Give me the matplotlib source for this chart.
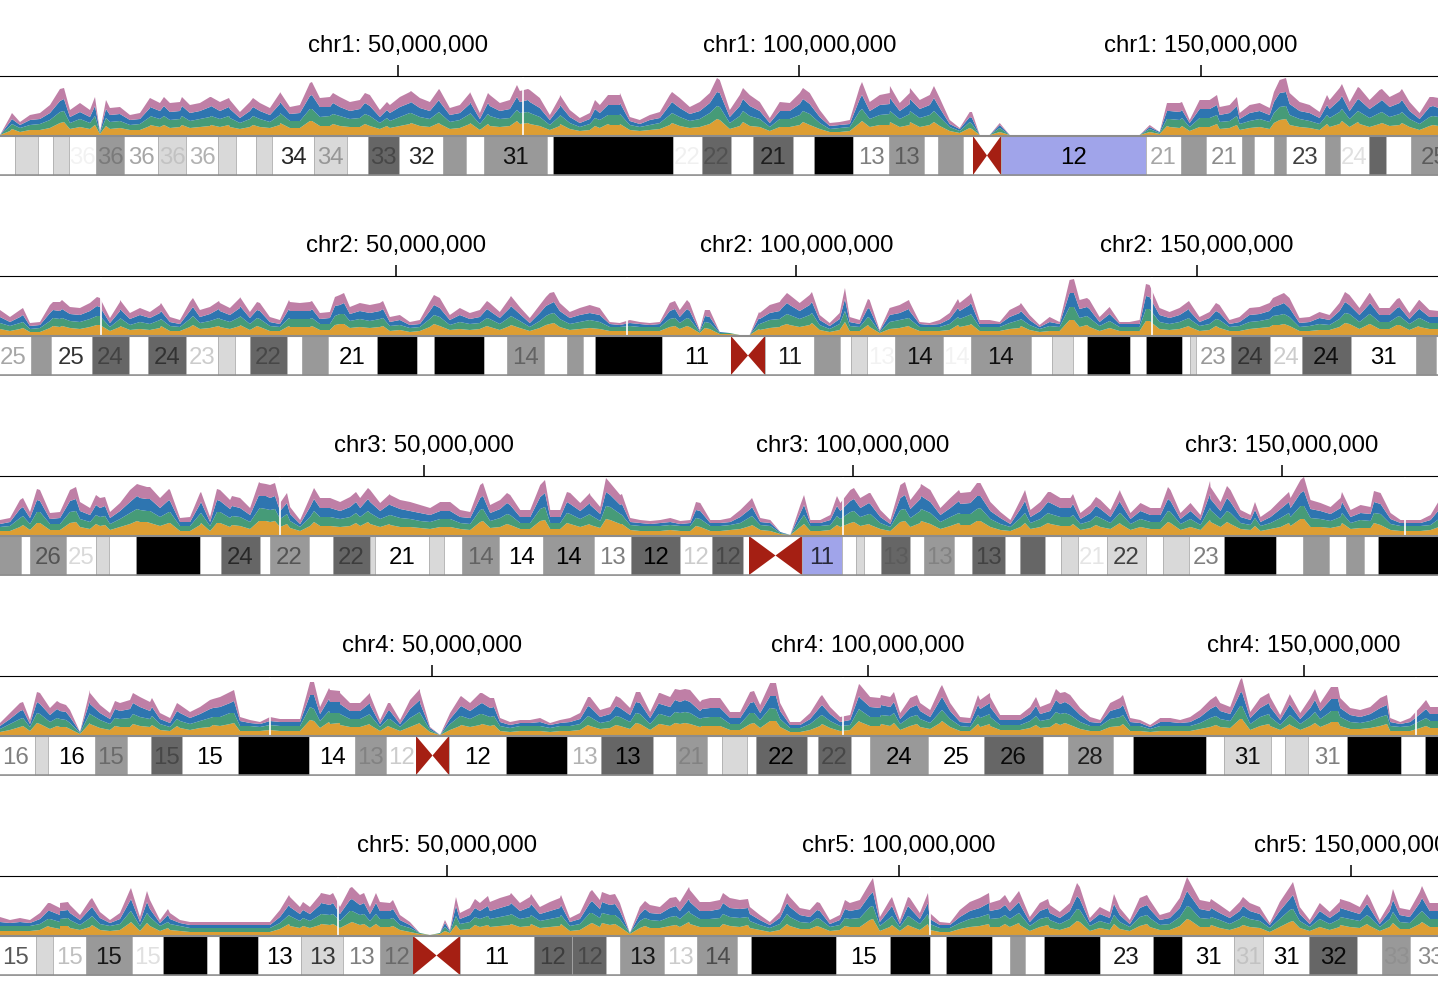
import matplotlib
matplotlib.use("Agg")
import numpy as np
from matplotlib import pyplot as plt

# -----------------------------
# DATA
# -----------------------------
view_start = [0.44, 0.56, 0.60, 0.46, 0.55]   # Mb at the left edge of each track
view_end = [179.52, 180.09, 168.2, 165.37, 159.62]
bin_size = [1.245, 1.248, 1.166, 1.147, 1.106]  # Mb per coverage bin
tick_mb = [50, 100, 150]

# cytoband edges (Mb), stain code per band, band number, label opacity for numbered bands
chr1_edges = [0, 2.31, 5.17, 7.04, 9.03, 12.4, 15.88, 20.12, 23.6, 27.59, 29.83, 32.32, 34.31, 39.54, 43.65, 46.27,
              50.13, 55.6, 58.47, 60.71, 68.56, 69.31, 84.25, 87.86, 91.47, 94.21, 99.19, 101.81, 106.67, 111.15,
              115.51, 117.25, 120.37, 121.61, 125.1, 143.15, 147.51, 150.62, 155.11, 156.6, 159.09, 160.59, 165.45,
              167.32, 170.93, 173.04, 176.15, 182]
chr1_stain = "wlwlwgwlwl" + "wlwlwdwgwg" + "wkwdwdwkwg" + "wgwCbwgwgw" + "gwgwdwg"
chr1_band = ['', '', '', '', '36', '36', '36', '36', '36', '', '', '', '34', '34', '', '33', '32', '', '', '31', '',
             '', '22', '22', '', '21', '', '', '13', '13', '', '', '', '', '12', '21', '', '21', '', '', '', '23', '',
             '24', '', '', '25']
chr1_alpha = [.05, .2, .35, .1, .3, .85, .3, .3, .85, .9, .06, .2, .7, .5, .4, 1, .35, .45, .75, .12, .4]

chr2_edges = [0, 4.43, 6.93, 12.05, 16.66, 19.04, 23.78, 27.78, 29.9, 31.77, 36.39, 38.26, 41.51, 47.63, 52.62,
              54.74, 60.98, 63.86, 68.47, 71.35, 73.34, 74.84, 83.21, 91.82, 96.07, 102.18, 105.43, 106.8, 108.8,
              112.3, 118.29, 121.78, 129.27, 131.9, 134.52, 136.27, 141.63, 143.63, 148.13, 149.12, 149.87, 154.24,
              159.11, 163.11, 169.22, 177.34, 179.84, 183]
chr2_stain = "wgwdwdwlwd" + "wgwkwkwgwg" + "wkwCwgwlwg" + "wgwlwkwkwl" + "wdwdwgw"
chr2_band = ['25', '', '25', '24', '', '24', '23', '', '', '22', '', '', '21', '', '', '', '', '14', '', '', '', '',
             '11', '', '11', '', '', '', '13', '14', '14', '14', '', '', '', '', '', '', '', '', '23', '24', '24',
             '24', '31', '', '']
chr2_alpha = [.35, .8, .35, .5, .2, .3, 1, .35, 1, .9, .05, .9, .05, .9, .4, .5, .2, .85, 1]

chr3_edges = [0, 3.05, 4.1, 8.29, 11.79, 13.3, 16.45, 23.91, 26.36, 30.9, 32.07, 36.61, 39.41, 43.72, 44.31, 50.6,
              52.35, 54.45, 58.76, 63.89, 69.83, 74.14, 79.85, 83.58, 87.2, 87.9, 94.07, 98.73, 100.37, 101.3, 103.28,
              106.66, 108.29, 111.79, 113.89, 117.73, 119.48, 122.4, 124.26, 126.24, 129.62, 134.17, 136.15, 139.18,
              143.26, 149.32, 152.46, 155.49, 157.48, 159.57, 161.2, 172]
chr3_stain = "gwgwlwkwdw" + "gwdlwlwgwg" + "wdwdwCbwlw" + "dwgwdwdwlw" + "lwlwkwgwgw" + "k"
chr3_band = ['', '', '26', '25', '', '', '', '', '24', '', '22', '', '22', '', '21', '', '', '14', '14', '14', '13',
             '12', '12', '12', '', '', '11', '', '', '', '13', '', '13', '', '13', '', '', '', '', '21', '22', '', '',
             '23', '', '', '', '', '', '', '']
chr3_alpha = [.45, .15, .6, .45, .4, 1, .35, 1, 1, .5, 1, .2, .3, .75, .1, .15, .35, .1, .7, .5]

chr4_edges = [0, 4.47, 5.96, 11.35, 15.02, 17.78, 21.33, 27.75, 35.9, 41.17, 44.73, 48.17, 51.95, 58.49, 65.48,
              69.38, 75.35, 77.98, 81.54, 83.26, 86.12, 87.16, 93.0, 94.27, 98.05, 100.23, 106.88, 113.3, 120.07,
              122.94, 128.1, 130.39, 138.76, 140.83, 146.22, 147.82, 150.46, 154.93, 161.12, 163.88, 168]
chr4_stain = "wlwgwdwkwg" + "wCwkwdwgwl" + "wdwdwgwdwg" + "wkwlwlwkwk"
chr4_band = ['16', '', '16', '15', '', '15', '15', '', '14', '13', '12', '', '12', '', '13', '13', '', '21', '', '',
             '', '22', '', '22', '', '24', '25', '26', '', '28', '', '', '', '31', '', '', '31', '', '', '']
chr4_alpha = [.5, 1, .3, .3, 1, 1, .15, .2, 1, .3, 1, .15, 1, .3, 1, 1, .9, .8, .95, .5]

chr5_edges = [0, 4.53, 6.41, 10.06, 15.15, 18.58, 23.45, 24.78, 29.09, 33.85, 38.49, 42.59, 46.24, 51.44, 59.62,
              63.82, 67.59, 69.13, 74.0, 77.65, 82.08, 83.63, 93.03, 99.0, 103.43, 105.2, 110.28, 112.28, 113.94,
              116.04, 122.23, 128.09, 131.3, 137.05, 140.26, 145.35, 150.66, 153.42, 156.53, 161]
chr5_stain = "wlwgwkwkwl" + "wgCwddwgwg" + "wkwkwkwgwk" + "wkwlwdwgw"
chr5_band = ['15', '', '15', '15', '15', '', '', '', '13', '13', '13', '12', '', '11', '12', '12', '', '13', '13', '14',
             '', '', '15', '', '', '', '', '', '', '', '23', '', '31', '31', '31', '32', '', '33', '33']
chr5_alpha = [.65, .25, .85, .12, 1, .75, .5, .3, 1, .4, .3, .85, .2, .5, 1, .9, 1, .1, 1, .9, .06, .45]

# assembly gaps (Mb)
chr1_gaps = [65.6]
chr2_gaps = [13.17, 78.8, 144.4]
chr3_gaps = [33.2, 98.9, 164.4]
chr4_gaps = [31.4, 97.1, 162.85]
chr5_gaps = [37.94, 103.4]

# coverage per bin, stacked from the bottom: orange, green, blue, pink
chr1_orange = [0,4,3,5,5,7,12,6,8,6,1,6, 7,5,5,9,8,7,8,7,8,9,8,8, 6,8,8,7,10,7,7,14,9,9,9,8, 8,9,6,7,9,11,9,8,11,6,7,11,
               5,9,8,9,11,11,9,5,9,6,4,5, 7,10,10,5,4,5,6,10,9,7,8,11, 15,6,9,9,8,4,8,8,10,10,6,3, 3,4,12,8,10,10,8,10,8,10,9,4,
               2,7,0,0,3,0,0,0,0,0,0,0, 0,0,0,0,0,0,0,3,1,8,7,4, 8,8,6,7,5,7,8,6,15,10,8,7, 5,8,11,8,11,8,11,9,10,8,5,9]
chr1_green = [0,5,4,5,6,8,11,6,8,6,1,7, 7,5,6,9,8,8,8,7,8,9,8,9, 6,8,8,6,10,7,7,12,9,10,10,8, 9,10,6,7,9,11,9,8,11,7,8,10,
              6,10,8,8,11,11,9,5,10,6,4,6, 8,10,10,5,4,5,6,10,9,7,8,11, 13,6,10,10,8,4,8,8,10,11,6,3, 4,4,12,8,10,11,8,11,9,10,9,4,
              2,6,0,0,4,0,0,0,0,0,0,0, 0,0,0,0,0,0,0,3,1,8,8,4, 9,9,7,7,6,7,8,7,13,10,8,7, 6,9,12,8,12,9,11,9,11,8,6,9]
chr1_blue = [0,4,3,5,5,7,11,6,7,6,1,7, 7,5,5,9,8,8,8,8,8,10,8,9, 5,8,8,7,11,7,8,13,10,9,9,8, 9,10,6,8,10,10,9,8,11,7,7,10,
             5,10,8,9,11,11,9,5,9,6,4,5, 7,10,10,4,3,5,5,10,9,7,8,10, 14,6,10,10,8,4,8,8,11,10,6,3, 3,3,12,8,10,10,8,10,9,10,9,3,
             2,5,0,0,3,0,0,0,0,0,0,0, 0,0,0,0,0,0,0,2,1,8,8,4, 9,9,7,8,5,8,8,7,14,11,8,8, 6,9,12,8,12,9,11,10,11,8,5,10]
chr1_pink = [0,5,3,5,6,8,12,7,9,7,0,7, 7,5,6,10,8,9,9,8,8,10,9,9, 6,9,8,7,11,7,8,13,9,10,10,9, 9,11,7,8,10,11,10,9,12,7,8,11,
             6,11,8,9,11,12,10,5,10,7,5,6, 8,10,10,4,4,5,6,10,10,7,9,10, 13,7,11,11,9,5,9,8,11,11,7,3, 3,4,12,9,10,11,8,11,9,10,10,4,
             1,5,0,0,2,0,0,0,0,0,0,0, 0,0,0,0,0,0,0,2,0,8,9,3, 9,9,8,8,6,8,8,7,13,11,9,8, 6,9,12,9,12,9,12,10,11,9,6,10]

chr2_orange = [6,4,6,3,3,7,8,7,6,8,10,4, 8,5,6,5,7,4,4,8,6,7,8,6, 9,5,8,4,4,8,8,8,5,5,11,7, 8,7,8,4,5,3,4,8,9,5,6,5,
               6,8,5,9,7,4,7,11,8,5,6,7, 6,4,4,4,4,4,4,8,6,8,2,6, 1,1,0,0,5,7,8,10,8,10,5,3, 5,4,4,8,2,6,7,8,4,4,4,5,
               8,10,4,4,4,6,7,5,3,4,4,15, 8,8,4,7,4,4,4,14,6,5,6,8, 4,5,7,4,4,6,7,8,10,9,4,4, 5,5,8,11,6,11,6,6,10,5,8,6]
chr2_green = [6,5,6,3,4,7,8,7,7,8,9,4, 8,5,7,6,8,5,4,8,6,7,8,7, 9,6,8,5,4,8,8,8,6,6,10,7, 8,7,8,5,5,4,4,8,9,5,7,6,
              6,8,6,9,7,4,7,10,8,6,7,8, 7,4,4,5,4,4,4,8,6,8,1,6, 1,1,0,0,6,8,8,10,8,10,5,3, 6,5,4,9,1,7,8,8,4,4,4,6,
              8,10,4,4,4,6,8,5,3,5,4,13, 9,9,5,7,4,4,4,12,7,6,7,8, 5,6,8,4,5,7,7,8,10,9,4,5, 6,5,8,10,7,10,7,7,9,6,9,6]
chr2_blue = [6,4,6,3,3,8,8,7,7,8,9,4, 8,6,7,6,7,4,3,8,6,7,8,7, 9,6,8,4,3,8,8,8,5,6,9,7, 8,8,8,4,5,3,3,8,9,5,7,5,
             6,8,6,9,7,4,8,10,8,6,7,7, 7,3,2,3,3,2,3,8,6,8,1,6, 1,0,0,0,5,7,8,10,8,10,5,3, 5,4,3,9,1,7,7,8,3,2,3,5,
             8,10,3,3,3,6,7,5,2,4,3,14, 9,9,4,7,3,3,3,12,7,6,7,8, 4,6,7,3,4,7,7,8,10,9,4,4, 6,5,8,9,7,10,7,7,9,5,9,6]
chr2_pink = [7,5,7,3,3,8,9,7,7,8,9,5, 9,6,7,6,8,5,4,9,7,7,8,7, 10,6,8,5,4,9,8,9,6,6,10,7, 8,8,8,5,5,3,4,9,10,5,7,6,
             7,8,6,10,7,5,8,11,8,6,7,8, 7,2,2,3,2,2,2,8,7,8,1,7, 0,0,0,0,6,8,9,10,8,10,5,3, 6,5,4,9,1,7,8,9,2,2,4,6,
             8,10,4,4,2,7,8,5,2,5,2,13, 9,9,5,7,2,2,4,12,7,6,7,9, 5,6,8,4,5,7,7,8,10,10,5,5, 6,5,8,10,7,11,7,7,9,6,9,7]

chr3_orange = [4,4,8,5,12,5,5,12,8,6,9,5, 8,11,13,12,9,12,4,4,10,4,12,8, 9,6,14,13,8,7,4,9,9,9,8,9, 9,11,8,10,8,8,7,6,8,8,6,5,
               13,7,8,10,6,6,14,6,6,11,8,10, 7,15,11,5,4,4,4,5,4,4,8,4, 4,5,6,9,5,4,1,0,8,4,4,5, 8,12,9,10,6,4,13,8,12,11,6,9,
               10,10,14,8,5,4,8,6,8,11,9,9, 5,7,8,6,11,5,8,6,6,12,5,8, 5,13,8,11,6,5,4,6,8,9,16,8, 8,7,9,6,7,7,10,5,4,4,4,5]
chr3_green = [4,5,9,6,11,6,6,11,8,7,9,6, 8,11,12,12,9,11,5,5,11,5,11,9, 9,7,13,12,8,7,4,9,9,9,8,9, 9,11,8,10,9,8,7,7,8,8,6,6,
              12,7,9,10,6,6,12,6,6,10,8,10, 7,13,10,5,5,5,5,5,5,5,8,5, 5,5,6,9,5,5,1,0,7,5,5,5, 8,11,9,11,6,4,12,9,12,11,7,9,
              11,11,13,8,6,4,9,6,8,10,9,9, 6,7,9,6,11,6,8,7,7,11,6,8, 5,12,8,11,6,5,5,6,9,9,13,9, 8,7,9,6,8,7,11,6,5,5,5,5]
chr3_blue = [3,4,9,6,11,5,6,11,8,7,9,6, 8,11,12,12,9,11,4,4,10,4,11,9, 9,7,12,12,8,7,3,10,9,9,8,10, 9,11,8,10,9,8,8,7,8,8,6,6,
             12,8,9,10,6,6,12,6,6,10,8,10, 7,12,9,3,3,2,3,3,2,3,8,3, 3,3,6,8,3,3,1,0,7,3,3,5, 8,11,9,10,6,3,12,9,12,11,7,9,
             10,11,12,8,6,3,9,6,8,11,9,9, 5,8,9,6,10,5,8,7,7,11,5,8, 5,11,8,11,6,5,4,6,9,9,13,9, 8,7,9,6,7,7,10,5,3,3,3,5]
chr3_pink = [4,4,9,6,11,6,6,11,9,7,10,6, 8,12,13,12,10,11,4,5,11,5,11,9, 10,7,13,13,8,7,4,10,10,10,9,10, 10,12,8,10,9,9,8,7,9,9,7,6,
             13,8,9,10,7,7,12,7,7,11,8,10, 7,12,10,4,3,3,3,4,3,3,8,3, 3,4,7,9,4,3,0,0,8,3,3,5, 8,11,10,11,7,4,13,9,12,12,7,10,
             11,11,13,9,6,4,9,7,9,11,10,10, 6,8,9,7,11,6,8,7,7,11,6,8, 5,12,9,12,7,5,5,7,9,10,13,9, 8,7,10,7,8,7,11,6,3,3,3,5]

chr4_orange = [3,5,8,4,11,6,8,6,1,11,7,5, 8,8,9,8,5,4,7,5,7,8,9,11, 4,4,4,5,4,4,4,15,7,11,10,8, 8,10,4,8,4,8,11,3,0,5,9,8,
               10,9,4,3,4,4,4,3,4,4,5,9, 6,7,9,6,11,5,11,9,11,11,8,9, 9,5,5,11,7,14,8,3,3,5,9,7, 4,5,13,9,9,9,5,9,8,6,12,8,
               4,4,8,9,5,5,5,7,7,8,10,10, 6,4,4,8,9,4,4,3,4,4,4,4, 6,8,8,7,16,5,9,9,5,10,5,9, 8,12,9,6,6,7,9,4,4,4,7,7]
chr4_green = [3,6,8,4,10,7,8,6,1,10,8,6, 8,9,9,8,6,4,7,6,7,9,9,11, 5,5,4,5,5,5,5,13,7,11,11,8, 8,10,4,8,4,9,11,2,0,6,10,8,
              11,9,5,4,5,5,5,4,5,5,6,9, 6,7,9,7,10,6,10,9,11,11,8,9, 9,6,6,11,8,13,8,4,4,6,10,7, 5,5,12,9,9,10,6,9,8,6,11,8,
              5,4,9,9,5,5,5,7,7,8,11,10, 7,5,5,8,9,5,5,3,5,5,5,5, 6,9,8,7,13,6,9,9,5,10,6,9, 8,11,9,7,6,7,9,5,4,5,7,7]
chr4_blue = [3,5,8,3,10,7,8,6,1,10,7,5, 8,9,10,8,5,4,8,6,7,9,10,10, 5,3,3,4,4,4,4,12,7,11,10,8, 8,10,3,8,3,9,10,2,0,5,9,8,
             10,9,4,3,3,3,4,3,3,4,5,10, 6,7,9,7,11,6,10,10,11,11,8,9, 9,6,6,10,7,12,8,3,3,5,9,7, 4,5,12,10,9,9,5,9,8,6,12,8,
             4,4,9,10,5,5,5,7,7,8,10,10, 7,4,3,8,9,4,3,2,4,4,3,4, 6,9,8,7,13,6,9,10,5,10,5,9, 8,12,9,7,6,7,9,4,3,4,7,7]
chr4_pink = [3,6,8,4,11,7,8,7,0,11,8,6, 8,9,10,9,6,5,8,6,7,9,10,11, 4,3,2,4,3,3,3,13,7,12,11,8, 8,10,4,8,4,9,11,1,0,6,10,8,
             11,10,4,3,3,3,4,2,3,4,6,10, 7,7,10,7,11,6,11,10,12,12,9,10, 10,6,6,11,8,13,8,3,3,6,10,7, 5,5,13,10,10,10,6,10,8,7,12,8,
             5,5,9,10,5,5,5,7,7,8,11,10, 7,5,3,8,10,4,3,2,4,4,3,5, 7,9,8,7,13,6,10,10,5,10,6,10, 8,12,10,7,7,7,10,4,2,4,7,7]

chr5_orange = [4,4,4,4,5,8,6,7,5,8,5,4, 5,12,4,9,4,5,4,3,3,3,3,3, 3,3,3,3,6,9,7,7,10,10,7,12, 10,7,8,8,5,3,1,0,1,2,5,6,
               8,8,9,10,8,9,7,8,9,4,5,11, 8,10,8,1,7,7,7,9,8,11,8,8, 8,9,8,7,5,3,5,9,6,6,8,4, 5,8,8,15,4,8,4,9,5,5,3,3,
               6,8,9,8,8,8,10,4,8,7,5,8, 13,4,7,5,6,4,9,8,5,5,9,15, 8,8,7,5,8,8,7,3,8,13,7,4, 8,5,8,8,7,9,4,8,6,6,11,8]
chr5_green = [5,5,5,5,6,8,7,8,5,9,6,5, 6,11,5,9,5,6,5,4,4,4,4,4, 4,4,4,4,6,10,7,7,10,10,7,12, 10,7,8,8,5,4,1,0,1,1,6,7,
              8,8,9,10,8,9,7,8,9,5,6,11, 9,10,8,1,7,8,7,9,8,11,8,8, 9,9,9,7,5,4,6,9,7,6,8,4, 5,8,9,13,5,9,4,9,6,6,4,4,
              6,8,9,8,9,8,11,5,8,8,6,8, 12,5,7,6,7,4,9,9,5,6,9,13, 9,8,8,6,8,8,7,4,8,12,7,4, 8,6,8,8,7,9,4,8,7,6,11,8]
chr5_blue = [4,3,4,3,5,8,7,7,5,9,6,3, 5,11,4,8,3,5,3,3,3,3,3,3, 3,3,3,3,6,9,7,7,10,10,7,11, 10,7,8,8,5,3,0,0,0,1,5,7,
             8,8,9,10,8,10,7,8,9,4,5,10, 9,10,8,0,7,7,7,9,8,11,8,8, 9,9,9,7,5,3,6,10,7,6,8,3, 5,8,9,12,4,9,3,9,5,5,3,3,
             6,8,9,8,9,8,10,4,8,7,6,8, 11,4,7,6,7,3,9,9,5,6,9,12, 9,8,7,6,8,8,7,3,8,11,7,3, 8,6,8,8,7,9,3,8,7,6,10,8]
chr5_pink = [5,3,4,3,6,8,7,8,5,9,6,3, 6,11,5,9,3,6,3,3,3,3,3,3, 3,3,3,3,7,10,7,7,10,10,7,12, 10,7,9,8,5,3,0,0,0,1,6,7,
             8,9,10,10,8,10,7,9,10,4,6,11, 9,10,8,0,7,8,7,10,9,12,9,9, 9,10,9,7,5,3,6,10,7,7,8,4, 5,8,9,12,5,9,4,10,6,6,3,2,
             7,9,10,8,9,8,11,5,8,8,6,8, 12,4,7,6,7,4,10,9,5,6,10,13, 9,9,8,6,9,8,7,2,9,12,7,4, 8,6,9,9,7,10,4,8,7,7,11,8]

# sharp coverage peaks between the bins, plus the value at the right edge: (Mb, orange, green, blue, pink)
chr1_peaks = [(1.93,6,5,5,6), (8.41,13,11,12,11), (12.27,10,9,10,9), (13.64,9,8,9,9), (19.12,10,9,9,9), (20.86,10,9,10,9),
              (23.1,10,9,10,9), (26.72,10,9,10,9), (28.96,10,9,9,9), (31.95,10,9,9,9), (35.31,12,10,11,10), (39.29,14,12,14,13),
              (41.91,11,10,11,10), (45.89,11,10,11,10), (48.63,9,8,8,8), (51.62,12,10,11,11), (55.11,12,11,12,11),
              (58.97,12,10,11,10), (61.21,11,10,11,10), (64.82,14,11,13,12), (66.19,12,11,12,11), (70.18,11,9,10,10),
              (74.54,9,8,9,9), (76.16,11,9,10,10), (77.65,11,10,11,10), (84.13,12,10,11,10), (89.73,16,13,14,14),
              (92.97,13,11,12,11), (100.44,13,11,12,11), (107.79,14,12,14,13), (111.27,13,11,13,12), (113.76,13,11,12,11),
              (116.75,13,11,13,12), (121.48,6,5,6,6), (145.77,9,7,8,8), (147.64,9,8,8,8), (152,11,9,10,10), (154.48,10,9,10,9),
              (159.09,12,10,11,10), (160.59,16,13,14,14), (165.7,11,9,10,10), (167.56,14,12,13,12), (169.55,13,11,12,12),
              (172.54,12,11,12,11), (175.03,12,11,12,11), (178.9,10,9,10,9), (179.6,9,9,9,10)]
chr2_peaks = [(3.43,7,6,7,7), (7.18,9,8,8,8), (8.3,9,8,9,9), (12.67,10,9,10,9), (15.54,9,8,9,9), (20.66,9,7,8,8), (24.65,10,9,9,9),
              (27.9,9,8,9,8), (30.52,10,9,10,9), (32.65,9,8,8,8), (36.64,9,8,9,9), (39.51,9,8,9,8), (42.38,10,9,10,9), (43.51,11,10,11,10),
              (48.38,9,8,9,8), (54.74,11,9,10,10), (61.36,9,8,9,8), (64.35,10,9,10,10), (68.72,10,9,10,9), (69.72,12,10,11,10),
              (84.83,9,8,9,8), (86.33,9,8,9,9), (88.57,7,6,6,6), (95.32,6,5,6,6), (98.06,9,8,9,9), (98.81,11,10,11,10), (101.93,12,10,11,10),
              (106.05,13,11,12,11), (108.92,10,8,9,9), (114.04,9,8,9,9), (120.16,10,8,9,9), (121.78,11,10,11,10), (128.02,9,7,8,8),
              (134.64,15,13,14,14), (136.27,10,9,9,9), (143.63,14,12,13,12), (149,9,8,9,8), (152.37,9,7,8,8), (159.49,10,9,9,9),
              (160.86,11,10,11,10), (168.48,12,10,11,10), (171.6,11,10,11,10), (174.97,10,8,9,9), (177.71,9,8,9,9), (180.2,6,6,6,6)]
chr3_peaks = [(3.28,10,9,9,9), (4.91,12,11,12,11), (9.46,13,11,12,12), (11.79,11,9,10,10), (12.84,10,9,10,9), (16.57,14,12,13,12),
              (17.73,13,11,12,12), (20.3,12,11,12,11), (24.03,12,10,11,10), (25.89,12,11,12,11), (27.64,10,9,10,10), (30.79,14,12,14,13),
              (31.6,14,12,13,12), (32.65,14,12,13,13), (34.05,11,10,11,10), (37.2,13,11,12,11), (42.09,12,10,11,10), (43.49,13,11,12,11),
              (46.05,11,9,11,10), (56.89,14,12,13,13), (59.69,11,10,11,10), (64.12,15,13,14,13), (66.68,12,10,11,10), (69.36,11,10,11,10),
              (71.23,16,13,14,14), (73.09,11,9,11,10), (81.72,9,8,8,8), (88.25,10,9,9,9), (94.31,11,9,10,10), (98.15,10,9,10,10),
              (100.13,13,11,12,11), (101.88,11,10,11,10), (106.08,14,12,14,13), (107.94,14,12,13,12), (112.37,12,10,12,11),
              (114.47,14,12,13,13), (120.07,12,10,12,11), (122.74,12,10,11,10), (125.66,11,9,11,10), (128.34,10,9,10,9), (131.13,12,10,12,11),
              (136.73,13,11,12,12), (141.63,15,12,14,13), (143.61,13,11,13,12), (146.87,9,8,8,8), (150.83,12,10,11,10), (152.58,16,13,15,14),
              (157.01,12,10,11,10), (160.74,12,10,11,11), (168.3,8,8,9,9)]
chr4_peaks = [(3.1,9,8,8,8), (4.7,12,10,11,10), (7.0,9,8,9,8), (8.03,8,7,8,7), (10.78,12,10,12,11), (13.65,9,8,9,8), (15.71,11,10,11,10),
              (17.89,10,9,9,9), (20.76,9,7,8,8), (24.89,10,8,9,9), (27.3,12,10,12,11), (36.47,14,12,14,13), (38.19,13,11,12,11),
              (39.45,12,10,11,11), (42.89,11,10,11,10), (44.96,9,7,8,8), (48.62,12,11,12,11), (53.33,10,9,10,10), (55.74,11,10,11,10),
              (57.11,10,9,9,9), (67.89,10,9,10,9), (71.1,10,9,10,10), (73.39,12,10,11,10), (76.03,11,10,11,10), (77.87,12,11,12,11),
              (79.01,12,11,12,11), (80.96,9,8,9,9), (86.93,12,10,11,11), (89.45,14,12,13,13), (94.73,11,9,10,10), (98.97,14,12,13,12),
              (101.49,11,9,10,10), (102.98,12,10,11,10), (105.62,11,9,10,10), (108.49,14,11,13,12), (112.62,11,9,10,10), (113.99,11,10,11,10),
              (119.27,10,9,10,9), (121.56,12,11,12,11), (122.59,12,10,11,10), (129.24,11,9,10,10), (139.91,10,9,10,10), (142.89,16,13,14,14),
              (145.99,11,10,11,10), (148.39,11,9,11,10), (151.26,12,11,12,11), (153.1,13,11,12,12), (153.9,13,11,12,12), (159.52,11,9,10,10),
              (164.0,9,8,9,9), (165.5,7,7,7,7)]
chr5_peaks = [(5.86,9,7,8,8), (7.19,9,7,8,8), (8.07,9,8,8,8), (10.73,10,9,9,9), (15.04,13,11,12,11), (16.81,12,10,11,11), (19.13,7,6,7,6),
              (32.52,11,9,10,10), (34.07,9,8,8,8), (36.06,11,10,11,10), (37.39,11,10,11,10), (39.49,13,11,12,12), (40.82,11,10,11,10),
              (42.14,11,10,11,10), (44.02,9,8,9,9), (49.77,4,4,4,3), (50.99,10,9,10,9), (53.09,10,8,9,9), (54.53,10,9,10,10), (57.08,11,10,11,10),
              (59.29,11,9,11,10), (62.61,11,9,10,10), (66.04,12,10,12,11), (67.14,12,10,11,10), (68.58,11,9,11,10), (71.9,9,8,9,8),
              (75.33,10,9,10,9), (76.77,13,11,12,12), (80.53,11,10,11,10), (83.29,10,8,9,9), (87.61,11,10,11,10), (90.93,9,8,8,8), (94.02,9,8,9,9),
              (97.12,16,13,14,14), (99.22,10,9,10,9), (100.99,10,9,10,9), (103.2,11,10,11,10), (109.95,11,10,11,10), (111.72,11,9,10,10),
              (113.27,12,10,11,11), (116.48,10,8,9,9), (119.69,14,12,13,13), (123.78,11,9,11,10), (127.43,11,9,10,10), (131.86,16,13,15,14),
              (134.51,10,8,9,9), (138.05,10,9,10,9), (143.58,14,12,14,13), (148.78,10,8,9,9), (151.77,11,9,11,10), (154.64,12,11,12,11), (157.85,13,11,13,12),
              (159.7,8,8,8,8)]

# -----------------------------
# STYLE
# -----------------------------
stain_colors = {"w": "white", "l": "#d9d9d9", "g": "#999999", "d": "#666666", "k": "black",
                "b": "#a0a4ea", "C": "white"}
layer_colors = ["#dd9e33", "#469b78", "#2e75b0", "#bf7fa6"]
cen_color = "#a51f13"
band_edge = "#aaaaaa"
font_size = 17.3

plt.rcParams["font.family"] = ["Liberation Sans", "DejaVu Sans"]

tracks = [
    (chr1_edges, chr1_stain, chr1_band, chr1_alpha, chr1_gaps, [chr1_orange, chr1_green, chr1_blue, chr1_pink], chr1_peaks),
    (chr2_edges, chr2_stain, chr2_band, chr2_alpha, chr2_gaps, [chr2_orange, chr2_green, chr2_blue, chr2_pink], chr2_peaks),
    (chr3_edges, chr3_stain, chr3_band, chr3_alpha, chr3_gaps, [chr3_orange, chr3_green, chr3_blue, chr3_pink], chr3_peaks),
    (chr4_edges, chr4_stain, chr4_band, chr4_alpha, chr4_gaps, [chr4_orange, chr4_green, chr4_blue, chr4_pink], chr4_peaks),
    (chr5_edges, chr5_stain, chr5_band, chr5_alpha, chr5_gaps, [chr5_orange, chr5_green, chr5_blue, chr5_pink], chr5_peaks),
]

fig = plt.figure(figsize=(14.38, 9.88), dpi=100)

for i, (edges, stain, band, alpha, gaps, layers, peaks) in enumerate(tracks):
    # one unit on y is one pixel, coverage sits on y=0
    ax = fig.add_axes([0, 1 - (i * 200 + 188) / 988, 1, 188 / 988])
    ax.patch.set_alpha(0)
    ax.set_xlim(view_start[i], view_end[i])
    ax.set_ylim(-53, 135)

    # merge the regular bins with the peaks, in genome order
    n = min(len(layer) for layer in layers)
    peaks = np.array(peaks, dtype=float)
    x = np.concatenate([view_start[i] + bin_size[i] * np.arange(n), peaks[:, 0]])
    ys = [np.concatenate([np.array(layer[:n], dtype=float), peaks[:, k + 1]]) for k, layer in enumerate(layers)]
    order = np.argsort(x, kind="stable")
    ax.stackplot(x[order], [y[order] for y in ys], colors=layer_colors, linewidth=0, zorder=2)
    ax.vlines(gaps, 0, 58, color="white", linewidth=1.2, zorder=3)

    # ideogram
    alphas = iter(alpha)
    for j, code in enumerate(stain):
        left, right = edges[j], edges[j + 1]
        ax.bar(left, -39, right - left, bottom=-1, align="edge", color=stain_colors[code],
               edgecolor=band_edge, linewidth=0.5, zorder=2)
        if code == "C":
            mid = 0.5 * (left + right)
            ax.fill([left, mid, left], [-1, -20.5, -40], color=cen_color, linewidth=0, zorder=3)
            ax.fill([right, mid, right], [-1, -20.5, -40], color=cen_color, linewidth=0, zorder=3)
        if band[j]:
            ax.text(0.5 * (left + right), -20.5, band[j], ha="center", va="center_baseline", fontsize=font_size,
                    color="black", alpha=next(alphas), zorder=4)
    ax.hlines(-0.6, view_start[i], view_end[i], color="#8c8c8c", linewidth=1.5, zorder=5)
    ax.hlines(-40, view_start[i], view_end[i], color="#8c8c8c", linewidth=1.1, zorder=5)

    # position axis on top
    for side in ["left", "right", "bottom"]:
        ax.spines[side].set_visible(False)
    ax.spines["top"].set_position(("data", 59))
    ax.spines["top"].set_linewidth(0.8)
    ax.set_yticks([])
    ax.xaxis.tick_top()
    ax.set_xticks(tick_mb)
    ax.set_xticklabels([f"chr{i + 1}: {mb * 1000000:,}" for mb in tick_mb])
    ax.tick_params(axis="x", direction="out", length=8, width=1.1, pad=6, labelsize=font_size)

fig.savefig("out.png", dpi=100)
